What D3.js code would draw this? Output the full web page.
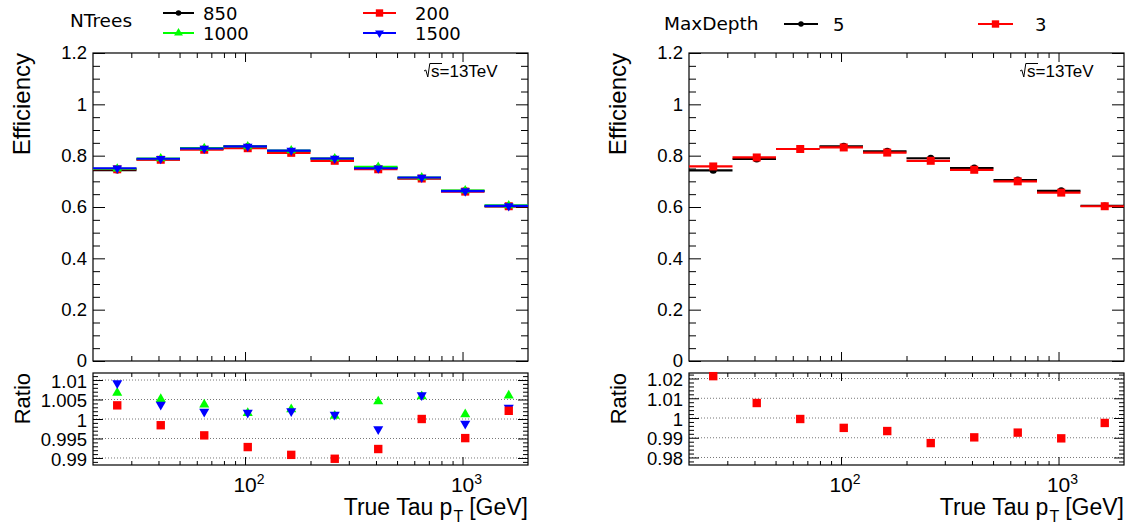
<!DOCTYPE html>
<html><head><meta charset="utf-8">
<script src="https://cdn.jsdelivr.net/npm/d3@7"></script>
<style>body{margin:0;background:#fff} svg{display:block} text{white-space:pre}</style>
</head><body>
<svg id="c" width="1130" height="526"></svg>
<script>
// ---------- data ----------
const binEdges = [20, 31.70, 50.24, 79.62, 126.2, 200.0, 317.0, 502.4, 796.2, 1262, 2000];

const ntreesLabels = ["850", "200", "1000", "1500"];
const eff850  = [0.744, 0.785, 0.826, 0.835, 0.818, 0.788, 0.753, 0.711, 0.663, 0.602];
const eff200  = [0.747, 0.784, 0.823, 0.829, 0.811, 0.780, 0.747, 0.711, 0.660, 0.603];
const eff1000 = [0.749, 0.789, 0.829, 0.836, 0.820, 0.789, 0.756, 0.715, 0.664, 0.606];
const eff1500 = [0.751, 0.788, 0.828, 0.836, 0.820, 0.789, 0.751, 0.715, 0.662, 0.604];
const ratio200  = [1.0035, 0.9984, 0.9958, 0.9928, 0.9908, 0.9898, 0.9923, 1.0000, 0.9951, 1.0021];
const ratio1000 = [1.0067, 1.0051, 1.0037, 1.0015, 1.0025, 1.0008, 1.0045, 1.0058, 1.0012, 1.0060];
const ratio1500 = [1.0092, 1.0037, 1.0019, 1.0016, 1.0020, 1.0011, 0.9974, 1.0061, 0.9988, 1.0029];

const depthLabels = ["5", "3"];
const effDepth5 = [0.743, 0.787, 0.826, 0.836, 0.817, 0.790, 0.752, 0.705, 0.663, 0.604];
const effDepth3 = [0.758, 0.793, 0.826, 0.832, 0.812, 0.780, 0.745, 0.700, 0.656, 0.603];
const ratioDepth3 = [1.0212, 1.0076, 0.9995, 0.9950, 0.9934, 0.9873, 0.9902, 0.9926, 0.9897, 0.9975];

const effTicks = [0, 0.2, 0.4, 0.6, 0.8, 1.0, 1.2];
const effTickLabels = ["0", "0.2", "0.4", "0.6", "0.8", "1", "1.2"];
const leftRatioTicks = [0.99, 0.995, 1.0, 1.005, 1.01];
const leftRatioLabels = ["0.99", "0.995", "1", "1.005", "1.01"];
const rightRatioTicks = [0.98, 0.99, 1.0, 1.01, 1.02];
const rightRatioLabels = ["0.98", "0.99", "1", "1.01", "1.02"];
const xMajorTicks = [100, 1000];
const xMajorExp = ["2", "3"];
const xMinorTicks = [30, 40, 50, 60, 70, 80, 90, 200, 300, 400, 500, 600, 700, 800, 900];

const xTitle = "True Tau p";
const effTitle = "Efficiency";
const ratioTitle = "Ratio";
const energyLabel = "s=13TeV";

// ---------- drawing ----------
const svg = d3.select("#c");
const FONT = "'Liberation Sans', Arial, Helvetica, sans-serif";
const LFONT = "'DejaVu Sans', sans-serif";
const centers = binEdges.slice(0, -1).map((e, i) => (e + binEdges[i + 1]) / 2);

function marker(g, type, cx, cy, color, scale) {
  scale = scale || 1;
  let sym, size, rot = 0;
  if (type === "circle") { sym = d3.symbolCircle; size = 40; }
  else if (type === "square") { sym = d3.symbolSquare; size = 64; }
  else if (type === "up") { sym = d3.symbolTriangle; size = 40; }
  else { sym = d3.symbolTriangle; size = 40; rot = 180; }
  g.append("path")
    .attr("d", d3.symbol().type(sym).size(size * scale)())
    .attr("transform", `translate(${cx},${cy}) rotate(${rot})`)
    .attr("fill", color);
}

function drawTicks(g, axisFn, scale, values, size, tr) {
  g.append("g").attr("transform", tr)
    .call(axisFn(scale).tickValues(values).tickSize(size).tickFormat(""))
    .call(s => s.select(".domain").remove())
    .call(s => s.selectAll("line").attr("stroke", "#000").attr("stroke-width", 1));
}

function panel(opt) {
  const x0 = opt.x0, x1 = opt.x1;
  const tTop = 53, tBot = 361, rTop = 373, rBot = 465;
  const x = d3.scaleLog().domain([20, 2000]).range([x0, x1]);
  const y = d3.scaleLinear().domain([0, 1.2]).range([tBot, tTop]);
  const yr = d3.scaleLinear().domain(opt.ratioDomain).range([rBot, rTop]);
  const g = svg.append("g");

  // ---- top panel ticks ----
  const effMinor = d3.range(0, 1.2001, 0.05).filter(v => Math.abs(v / 0.2 - Math.round(v / 0.2)) > 1e-6);
  drawTicks(g, d3.axisLeft, y, effTicks, -12, `translate(${x0},0)`);
  drawTicks(g, d3.axisLeft, y, effMinor, -7, `translate(${x0},0)`);
  drawTicks(g, d3.axisRight, y, effTicks, -12, `translate(${x1},0)`);
  drawTicks(g, d3.axisRight, y, effMinor, -7, `translate(${x1},0)`);
  drawTicks(g, d3.axisBottom, x, xMajorTicks, -9, `translate(0,${tBot})`);
  drawTicks(g, d3.axisBottom, x, xMinorTicks, -5, `translate(0,${tBot})`);
  drawTicks(g, d3.axisTop, x, xMajorTicks, -9, `translate(0,${tTop})`);
  drawTicks(g, d3.axisTop, x, xMinorTicks, -5, `translate(0,${tTop})`);
  g.append("g").attr("transform", `translate(${x0},0)`)
    .call(d3.axisLeft(y).tickValues(effTicks).tickSize(0).tickPadding(6)
      .tickFormat((d, i) => effTickLabels[i]))
    .call(s => s.select(".domain").remove())
    .call(s => s.selectAll("text").attr("font-family", FONT).attr("font-size", 18.5).attr("fill", "#000").attr("dy", "0.32em"));

  // ---- ratio panel ----
  const rStep = opt.ratioTicks[1] - opt.ratioTicks[0];
  const rMinor = d3.range(Math.ceil(opt.ratioDomain[0] / (rStep / 5)), Math.floor(opt.ratioDomain[1] / (rStep / 5)) + 1)
    .map(k => k * rStep / 5).filter(v => Math.abs(v / rStep - Math.round(v / rStep)) > 1e-6);
  g.append("g").selectAll("line").data(opt.ratioTicks).join("line")
    .attr("x1", x0).attr("x2", x1).attr("y1", d => yr(d)).attr("y2", d => yr(d))
    .attr("stroke", "#777").attr("stroke-width", 1).attr("stroke-dasharray", "1,2");
  drawTicks(g, d3.axisLeft, yr, opt.ratioTicks, -10, `translate(${x0},0)`);
  drawTicks(g, d3.axisLeft, yr, rMinor, -5, `translate(${x0},0)`);
  drawTicks(g, d3.axisRight, yr, opt.ratioTicks, -10, `translate(${x1},0)`);
  drawTicks(g, d3.axisRight, yr, rMinor, -5, `translate(${x1},0)`);
  drawTicks(g, d3.axisBottom, x, xMajorTicks, -8, `translate(0,${rBot})`);
  drawTicks(g, d3.axisBottom, x, xMinorTicks, -4, `translate(0,${rBot})`);
  drawTicks(g, d3.axisTop, x, xMajorTicks, -8, `translate(0,${rTop})`);
  drawTicks(g, d3.axisTop, x, xMinorTicks, -4, `translate(0,${rTop})`);
  g.append("g").attr("transform", `translate(${x0},0)`)
    .call(d3.axisLeft(yr).tickValues(opt.ratioTicks).tickSize(0).tickPadding(6)
      .tickFormat((d, i) => opt.ratioLabels[i]))
    .call(s => s.select(".domain").remove())
    .call(s => s.selectAll("text").attr("font-family", FONT).attr("font-size", 18.5).attr("fill", "#000").attr("dy", "0.38em"));
  // x labels 10^n
  const xl = g.append("g");
  xMajorTicks.forEach((v, i) => {
    const t = xl.append("text").attr("x", x(v) + 4).attr("y", 492)
      .attr("text-anchor", "middle").attr("font-family", FONT).attr("font-size", 21).attr("fill", "#000");
    t.append("tspan").text("10");
    t.append("tspan").attr("dy", -8).attr("font-size", 14).text(xMajorExp[i]);
  });

  // frames
  g.append("rect").attr("x", x0).attr("y", tTop).attr("width", x1 - x0).attr("height", tBot - tTop)
    .attr("fill", "none").attr("stroke", "#000").attr("stroke-width", 1.2);
  g.append("rect").attr("x", x0).attr("y", rTop).attr("width", x1 - x0).attr("height", rBot - rTop)
    .attr("fill", "none").attr("stroke", "#000").attr("stroke-width", 1.2);

  // ---- top series ----
  opt.series.forEach(s => {
    const sg = g.append("g");
    sg.selectAll("line").data(s.values).join("line")
      .attr("x1", (d, i) => x(binEdges[i])).attr("x2", (d, i) => x(binEdges[i + 1]))
      .attr("y1", d => y(d)).attr("y2", d => y(d))
      .attr("stroke", s.color).attr("stroke-width", 2.2);
    s.values.forEach((v, i) => marker(sg, s.marker, x(centers[i]), y(v), s.color));
  });
  // ---- ratio series ----
  opt.ratios.forEach(s => {
    const sg = g.append("g");
    s.values.forEach((v, i) => marker(sg, s.marker, x(centers[i]), yr(v), s.color, 1.1));
  });

  // sqrt(s) label
  const rx = x1 - 104;
  g.append("path").attr("d", `M${rx},71 L${rx + 1.8},70 L${rx + 3.8},77 L${rx + 5.8},63.5 L${rx + 18},63.5`)
    .attr("fill", "none").attr("stroke", "#000").attr("stroke-width", 1);
  g.append("text").attr("x", rx + 7).attr("y", 77).attr("font-family", FONT).attr("font-size", 17)
    .attr("fill", "#000").text(energyLabel);

  // axis titles
  g.append("text").attr("transform", `translate(${x0 - 63},${tTop}) rotate(-90)`)
    .attr("text-anchor", "end").attr("font-family", FONT).attr("font-size", 24).attr("fill", "#000").text(effTitle);
  g.append("text").attr("transform", `translate(${x0 - 63},${rTop}) rotate(-90)`)
    .attr("text-anchor", "end").attr("font-family", FONT).attr("font-size", 22).attr("fill", "#000").text(ratioTitle);
  const xt = g.append("text").attr("x", x1).attr("y", 515).attr("text-anchor", "end")
    .attr("font-family", FONT).attr("font-size", 23).attr("fill", "#000");
  xt.append("tspan").text(xTitle);
  xt.append("tspan").attr("dy", 7).attr("dx", 1).attr("font-size", 16).text("T");
  xt.append("tspan").attr("dy", -7).attr("dx", 6).text("[GeV]");

  // legend
  const lg = g.append("g");
  lg.append("text").attr("x", opt.legend.title.x).attr("y", opt.legend.title.y)
    .attr("font-family", LFONT).attr("font-size", 18.5).attr("fill", "#000").text(opt.legend.title.text);
  opt.legend.entries.forEach(e => {
    lg.append("line").attr("x1", e.lx1).attr("x2", e.lx2).attr("y1", e.y).attr("y2", e.y)
      .attr("stroke", e.color).attr("stroke-width", 2);
    marker(lg, e.marker, (e.lx1 + e.lx2) / 2, e.y, e.color, e.marker === "circle" ? 0.6 : 0.85);
    lg.append("text").attr("x", e.tx).attr("y", e.y + 6.5).attr("font-family", LFONT).attr("font-size", 18)
      .attr("fill", "#000").text(e.label);
  });
}

panel({
  x0: 93, x1: 528,
  ratioDomain: [0.9882, 1.0118],
  ratioTicks: leftRatioTicks, ratioLabels: leftRatioLabels,
  series: [
    { values: eff850, color: "#000000", marker: "circle" },
    { values: eff200, color: "#ff0000", marker: "square" },
    { values: eff1000, color: "#00ff00", marker: "up" },
    { values: eff1500, color: "#0000ff", marker: "down" }
  ],
  ratios: [
    { values: ratio1000, color: "#00ff00", marker: "up" },
    { values: ratio1500, color: "#0000ff", marker: "down" },
    { values: ratio200, color: "#ff0000", marker: "square" }
  ],
  legend: {
    title: { text: "NTrees", x: 70, y: 27 },
    entries: [
      { label: ntreesLabels[0], color: "#000000", marker: "circle", lx1: 163, lx2: 194, y: 13, tx: 203 },
      { label: ntreesLabels[1], color: "#ff0000", marker: "square", lx1: 363, lx2: 396, y: 13, tx: 415 },
      { label: ntreesLabels[2], color: "#00ff00", marker: "up", lx1: 163, lx2: 194, y: 33, tx: 203 },
      { label: ntreesLabels[3], color: "#0000ff", marker: "down", lx1: 363, lx2: 396, y: 33, tx: 415 }
    ]
  }
});

panel({
  x0: 689, x1: 1124,
  ratioDomain: [0.9762, 1.0228],
  ratioTicks: rightRatioTicks, ratioLabels: rightRatioLabels,
  series: [
    { values: effDepth5, color: "#000000", marker: "circle" },
    { values: effDepth3, color: "#ff0000", marker: "square" }
  ],
  ratios: [
    { values: ratioDepth3, color: "#ff0000", marker: "square" }
  ],
  legend: {
    title: { text: "MaxDepth", x: 664, y: 30 },
    entries: [
      { label: depthLabels[0], color: "#000000", marker: "circle", lx1: 784, lx2: 818, y: 24, tx: 833 },
      { label: depthLabels[1], color: "#ff0000", marker: "square", lx1: 978, lx2: 1013, y: 24, tx: 1035 }
    ]
  }
});
</script>
</body></html>
